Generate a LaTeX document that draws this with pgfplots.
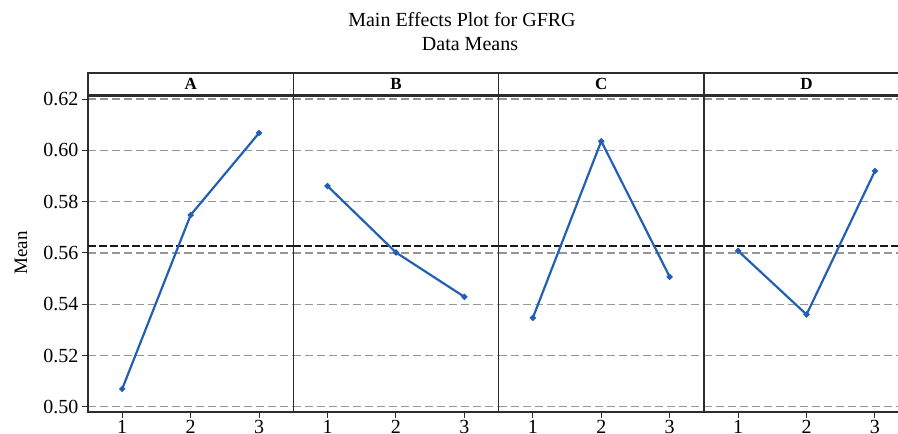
\documentclass[border=0pt]{standalone}
\usepackage{fontspec}
\setmainfont{Liberation Serif}
\usepackage{pgfplots}
\pgfplotsset{compat=1.18}
\definecolor{lineblue}{RGB}{35,95,180}
\definecolor{framegray}{RGB}{45,45,45}
\definecolor{gridgray}{RGB}{150,150,150}
\pgfplotsset{panel/.style={
  scale only axis, width=205.3pt, height=317pt, anchor=south west,
  xmin=0.5, xmax=3.5, ymin=0.498, ymax=0.6216,
  xtick={1,2,3}, ytick={0.50,0.52,0.54,0.56,0.58,0.60,0.62},
  tick align=outside, xtick pos=bottom, ytick pos=left,
  major tick length=6pt,
  ymajorgrids, grid style={gridgray, dash pattern=on 8pt off 4pt, line width=1.2pt},
  axis line style={framegray, line width=1.3pt},
  tick style={framegray, line width=1pt},
  ticklabel style={font=\fontsize{20}{20}\selectfont},
  xticklabel style={yshift=1pt},
  /pgf/number format/assume math mode=true,
  yticklabel style={/pgf/number format/.cd, fixed, fixed zerofill, precision=2},
  clip mode=individual,
}}
\newcommand{\meanline}{\addplot[black!90, dash pattern=on 8pt off 3pt, line width=2pt] coordinates {(0.5,0.5629) (3.5,0.5629)};}
\begin{document}
\begin{tikzpicture}
\useasboundingbox (0,0) rectangle (898pt,434pt);
\node[font=\fontsize{20}{22}\selectfont] at (462pt,414pt) {Main Effects Plot for GFRG};
\node[font=\fontsize{20}{22}\selectfont] at (470pt,390pt) {Data Means};
\node[rotate=90, font=\fontsize{19}{20}\selectfont] at (21pt,181pt) {Mean};

\begin{axis}[panel, name=pA, at={(88pt,22pt)}]
\meanline
\addplot[lineblue, line width=2.2pt, mark=*, mark size=1.8pt] coordinates {(1,0.5070) (2,0.5748) (3,0.6068)};
\end{axis}
\begin{axis}[panel, name=pB, at={(293.3pt,22pt)}, yticklabels={}, ytick style={draw=none}]
\meanline
\addplot[lineblue, line width=2.2pt, mark=*, mark size=1.8pt] coordinates {(1,0.5861) (2,0.5602) (3,0.5429)};
\end{axis}
\begin{axis}[panel, name=pC, at={(498.6pt,22pt)}, yticklabels={}, ytick style={draw=none}]
\meanline
\addplot[lineblue, line width=2.2pt, mark=*, mark size=1.8pt] coordinates {(1,0.5347) (2,0.6036) (3,0.5507)};
\end{axis}
\begin{axis}[panel, name=pD, at={(703.9pt,22pt)}, yticklabels={}, ytick style={draw=none}]
\meanline
\addplot[lineblue, line width=2.2pt, mark=*, mark size=1.8pt] coordinates {(1,0.5608) (2,0.5360) (3,0.5920)};
\end{axis}

\foreach \p/\l in {pA/A,pB/B,pC/C,pD/D}{
  \draw[framegray, line width=1.3pt] (\p.north west) rectangle ([yshift=22pt]\p.north east);
  \draw[framegray, line width=1.3pt] ([yshift=-1.5pt]\p.north west) -- ([yshift=-1.5pt]\p.north east);
  \node[font=\bfseries\fontsize{17}{17}\selectfont] at ([yshift=11pt]\p.north) {\l};
}
\end{tikzpicture}
\end{document}
